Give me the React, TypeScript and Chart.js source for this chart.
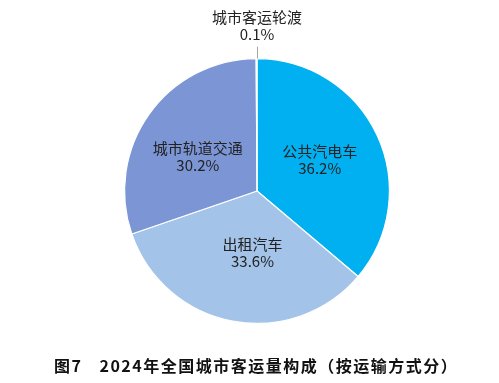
import React, { useEffect, useRef } from "react";
import { Chart, registerables } from "chart.js";

Chart.register(...registerables);

const categories = ["公共汽电车", "出租汽车", "城市轨道交通", "城市客运轮渡"];
const shares = [36.2, 33.6, 30.2, 0.1];
const percentLabels = ["36.2%", "33.6%", "30.2%", "0.1%"];
const colors = ["#00B0F0", "#A3C3E8", "#7B95D5", "#8FA3DA"];
const titleFigure = "图7";
const titleText = "2024年全国城市客运量构成（按运输方式分）";
// label block centre as fractions of the radius (x, y) from the pie centre
const labelOffsets: [number, number][] = [
  [0.474, -0.233],
  [-0.034, 0.47],
  [-0.447, -0.259],
  [0.0, -1.25],
];

const labelPlugin = {
  id: "sliceLabels",
  afterDatasetsDraw(chart: any) {
    const meta = chart.getDatasetMeta(0);
    const ctx = chart.ctx;
    ctx.save();
    ctx.font = '15px "Noto Sans CJK SC", "Noto Sans", sans-serif';
    ctx.fillStyle = "#222";
    ctx.textAlign = "center";
    ctx.textBaseline = "middle";
    meta.data.forEach((arc: any, i: number) => {
      const r = arc.outerRadius;
      const cx = arc.x + labelOffsets[i][0] * r;
      const cy = arc.y + labelOffsets[i][1] * r;
      ctx.fillText(categories[i], cx, cy - 8.5);
      ctx.fillText(percentLabels[i], cx, cy + 8.5);
      if (labelOffsets[i][1] < -1) {
        ctx.strokeStyle = "#A6A6A6";
        ctx.lineWidth = 1;
        ctx.beginPath();
        ctx.moveTo(Math.round(arc.x) + 0.5, arc.y - r * 1.09);
        ctx.lineTo(Math.round(arc.x) + 0.5, arc.y - r);
        ctx.stroke();
      }
    });
    ctx.restore();
  },
};

export default function App() {
  const ref = useRef<HTMLCanvasElement | null>(null);
  useEffect(() => {
    if (!ref.current) return;
    const chart = new Chart(ref.current, {
      type: "pie",
      data: {
        labels: categories,
        datasets: [
          {
            data: shares,
            backgroundColor: colors,
            borderColor: "#ffffff",
            borderWidth: 1.2,
          },
        ],
      },
      options: {
        responsive: false,
        animation: false,
        layout: { padding: { top: 58, bottom: 59, left: 124, right: 109 } },
        plugins: {
          legend: { display: false },
          tooltip: { enabled: false },
          title: { display: false },
        },
      },
      plugins: [labelPlugin],
    });
    return () => chart.destroy();
  }, []);
  return (
    <div style={{ position: "fixed", left: 0, top: 0, width: 499, height: 383, background: "#fff" }}>
      <canvas ref={ref} width={499} height={383} style={{ display: "block" }} />
      <div
        style={{
          position: "absolute",
          left: 54,
          top: 355,
          fontFamily: '"Noto Sans CJK SC", sans-serif',
          fontWeight: 700,
          fontSize: 16,
          letterSpacing: 1.5,
          color: "#111",
          whiteSpace: "nowrap",
          lineHeight: "20px",
        }}
      >
        <span>{titleFigure}</span>
        <span style={{ marginLeft: 17 }}>{titleText}</span>
      </div>
    </div>
  );
}
